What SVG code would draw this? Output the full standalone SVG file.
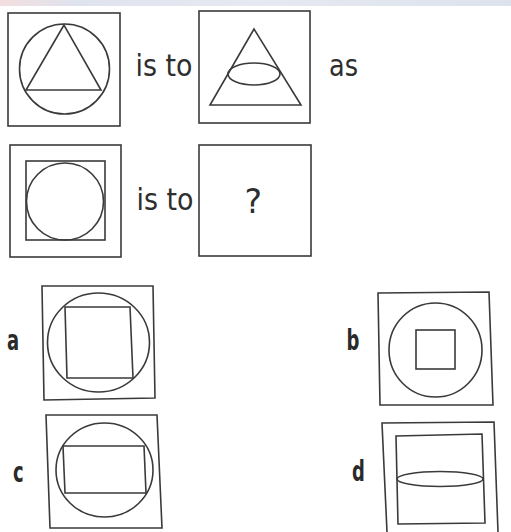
<svg xmlns="http://www.w3.org/2000/svg" width="511" height="532" viewBox="0 0 511 532">
<defs>
<linearGradient id="band" x1="0" y1="0" x2="1" y2="0">
<stop offset="0" stop-color="#f3dede"/>
<stop offset="0.15" stop-color="#dfe3ee"/>
<stop offset="0.5" stop-color="#e6e9f1"/>
<stop offset="1" stop-color="#dde2ec"/>
</linearGradient>
</defs>
<style>
.s{fill:none;stroke:#3a3a3a;stroke-width:1.6}
.t{font-family:"DejaVu Sans",sans-serif;font-size:30px;fill:#2e2e2e}
.q{font-family:"DejaVu Sans",sans-serif;font-size:33px;fill:#2e2e2e}
.l{font-family:"DejaVu Sans",sans-serif;font-size:29px;font-weight:bold;fill:#2a2a2a}
</style>
<rect width="511" height="532" fill="#ffffff"/>
<rect x="0" y="0" width="511" height="6" fill="url(#band)"/>
<g id="q1">
<rect class="s" x="8" y="13" width="112" height="113"/>
<circle class="s" cx="64.5" cy="69" r="45"/>
<polygon class="s" points="64,25 26,90 101,90"/>
</g>
<text class="t" x="135.5" y="76" textLength="57" lengthAdjust="spacingAndGlyphs">is to</text>
<g id="q2">
<rect class="s" x="199" y="11" width="111" height="112"/>
<polygon class="s" points="254,29 210,105 301,105"/>
<ellipse class="s" cx="254" cy="74" rx="26" ry="11"/>
</g>
<text class="t" x="329" y="76" textLength="29" lengthAdjust="spacingAndGlyphs">as</text>
<g id="q3">
<rect class="s" x="10" y="145" width="111" height="112"/>
<rect class="s" x="26" y="161" width="79" height="79"/>
<circle class="s" cx="65" cy="201.5" r="38.5"/>
</g>
<text class="t" x="136.5" y="210" textLength="57" lengthAdjust="spacingAndGlyphs">is to</text>
<g id="q4">
<rect class="s" x="199" y="145" width="112" height="111"/>
<text class="q" x="244.5" y="213">?</text>
</g>
<g id="a">
<text class="l" transform="translate(7,350) scale(0.62,1)">a</text>
<polygon class="s" points="42,286 153,286 155,398 44,400"/>
<ellipse class="s" cx="98.5" cy="342.5" rx="51" ry="49.5"/>
<polygon class="s" points="65,307 130,307 133,378 67,378"/>
</g>
<g id="b">
<text class="l" transform="translate(346.5,350) scale(0.62,1)">b</text>
<polygon class="s" points="378,293 489,292 493,405 380,405"/>
<ellipse class="s" cx="435.5" cy="350" rx="46.5" ry="47"/>
<rect class="s" x="416" y="330" width="39" height="39"/>
</g>
<g id="c">
<text class="l" transform="translate(13,482) scale(0.62,1)">c</text>
<polygon class="s" points="46,415 157,415 162,528 50,528"/>
<ellipse class="s" cx="104.5" cy="470" rx="48.5" ry="47"/>
<polygon class="s" points="63,446 144,446 146,493 65,493"/>
</g>
<g id="d">
<text class="l" transform="translate(352,481) scale(0.62,1)">d</text>
<polyline class="s" points="387,532 382,423 494,422 498,532"/>
<polygon class="s" points="396,436 482,434 485,523 398,524"/>
<ellipse class="s" cx="440" cy="479" rx="43" ry="7.5"/>
</g>
</svg>
